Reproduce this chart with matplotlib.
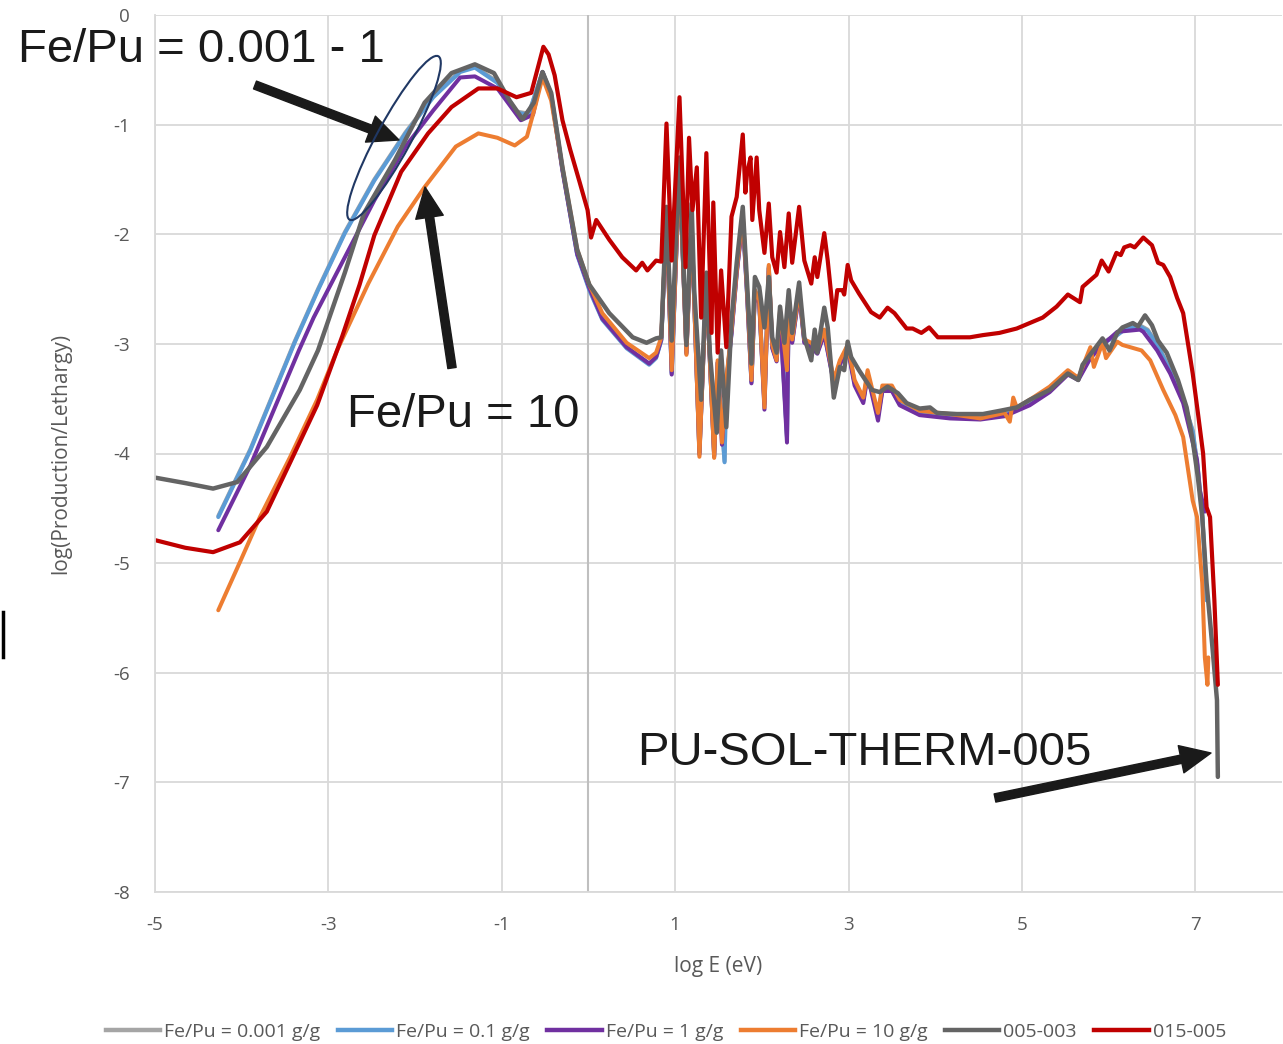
import matplotlib
matplotlib.use("Agg")
import matplotlib.pyplot as plt
from matplotlib.patches import Ellipse, FancyArrowPatch
from matplotlib.transforms import IdentityTransform
from matplotlib.lines import Line2D

# ---------------- data (log E, log(Production/Lethargy)) ----------------
red_x = [-5.00, -4.65, -4.33, -4.02, -3.71, -3.44, -3.13, -2.84, -2.64, -2.47, -2.16, -1.85, -1.58, -1.27,
         -1.05, -0.83, -0.66, -0.59, -0.52, -0.46, -0.39, -0.30, -0.21, -0.10, -0.01, 0.03, 0.09, 0.24,
         0.39, 0.55, 0.62, 0.68, 0.78, 0.84,
         0.90, 0.96, 1.05, 1.12, 1.16, 1.20, 1.25, 1.30, 1.36, 1.42, 1.44, 1.49, 1.53, 1.59, 1.65, 1.71,
         1.78, 1.81, 1.83, 1.87, 1.89, 1.94, 1.97, 2.03, 2.08, 2.12, 2.17, 2.21, 2.26, 2.31, 2.35, 2.43,
         2.49, 2.57, 2.61, 2.64, 2.72, 2.76, 2.83, 2.87, 2.93, 2.95, 2.99, 3.03, 3.12, 3.26, 3.36, 3.45,
         3.53, 3.67, 3.74, 3.84, 3.93, 4.03, 4.17, 4.40, 4.55, 4.74, 4.94, 5.09, 5.24, 5.40, 5.53, 5.67,
         5.70, 5.86, 5.92, 6.00, 6.09, 6.14, 6.18, 6.25, 6.30, 6.40, 6.50, 6.57, 6.63, 6.71, 6.79, 6.86,
         6.91, 6.97, 7.03, 7.09, 7.13, 7.17, 7.22, 7.26]
red_y = [-4.79, -4.86, -4.90, -4.81, -4.53, -4.08, -3.56, -2.93, -2.46, -2.01, -1.43, -1.08, -0.84, -0.67,
         -0.67, -0.75, -0.71, -0.50, -0.29, -0.36, -0.55, -0.96, -1.23, -1.53, -1.78, -2.03, -1.87, -2.05,
         -2.21, -2.33, -2.26, -2.33, -2.24, -2.25,
         -0.99, -2.24, -0.75, -2.30, -1.12, -1.78, -1.39, -2.76, -1.26, -2.90, -1.71, -3.08, -2.33, -3.03,
         -1.84, -1.66, -1.09, -1.62, -1.44, -1.30, -1.87, -1.30, -1.78, -2.17, -1.72, -2.21, -2.35, -1.98,
         -2.30, -1.81, -2.26, -1.75, -2.24, -2.45, -2.21, -2.39, -1.99, -2.24, -2.78, -2.51, -2.51, -2.55,
         -2.28, -2.42, -2.54, -2.71, -2.76, -2.67, -2.72, -2.86, -2.86, -2.90, -2.85, -2.94, -2.94, -2.94,
         -2.92, -2.90, -2.86, -2.81, -2.76, -2.66, -2.55, -2.62, -2.48, -2.37, -2.24, -2.34, -2.17, -2.19,
         -2.12, -2.10, -2.12, -2.03, -2.10, -2.26, -2.28, -2.39, -2.58, -2.72, -2.97, -3.27, -3.63, -4.00,
         -4.49, -4.58, -5.34, -6.11]

gray_x = [-5.00, -4.65, -4.33, -4.05, -3.71, -3.33, -3.12, -2.81, -2.59, -2.23, -1.89, -1.58, -1.31, -1.09,
          -0.91, -0.76, -0.63, -0.53, -0.43, -0.30, -0.13, 0.01, 0.24, 0.51, 0.67, 0.78, 0.84,
          0.90, 0.96, 1.05, 1.13, 1.19, 1.22, 1.30, 1.36, 1.40, 1.48, 1.53, 1.59, 1.65, 1.71, 1.78, 1.83,
          1.88, 1.92, 1.97, 2.03, 2.08, 2.12, 2.17, 2.21, 2.26, 2.31, 2.35, 2.43, 2.49, 2.57, 2.61, 2.64,
          2.72, 2.76, 2.83, 2.90, 2.95, 2.99, 3.03, 3.12, 3.27, 3.36, 3.45, 3.57, 3.67, 3.82, 3.94, 4.02,
          4.25, 4.55, 4.75, 4.94, 5.09, 5.32, 5.53, 5.65, 5.70, 5.93, 6.01, 6.10, 6.16, 6.28, 6.34, 6.42,
          6.50, 6.57, 6.67, 6.80, 6.90, 6.97, 7.03, 7.08, 7.13, 7.20, 7.25, 7.26]
gray_y = [-4.22, -4.27, -4.32, -4.26, -3.94, -3.42, -3.06, -2.35, -1.81, -1.32, -0.80, -0.53, -0.45, -0.53,
          -0.78, -0.95, -0.80, -0.52, -0.71, -1.39, -2.14, -2.46, -2.72, -2.94, -2.99, -2.95, -2.94,
          -1.75, -2.97, -1.30, -3.01, -1.72, -2.51, -3.51, -2.35, -3.08, -3.81, -3.06, -3.76, -2.78, -2.26,
          -1.75, -2.45, -3.18, -2.39, -2.48, -2.85, -2.39, -2.94, -3.08, -2.66, -2.99, -2.51, -2.90, -2.44,
          -2.94, -3.15, -2.87, -3.08, -2.67, -2.85, -3.49, -3.21, -3.24, -2.98, -3.12, -3.24, -3.42, -3.44,
          -3.39, -3.45, -3.54, -3.59, -3.58, -3.63, -3.64, -3.64, -3.61, -3.58, -3.51, -3.42, -3.27, -3.33,
          -3.19, -2.95, -3.06, -2.90, -2.85, -2.81, -2.84, -2.74, -2.83, -2.97, -3.08, -3.33, -3.58, -3.88,
          -4.22, -4.58, -5.18, -5.79, -6.25, -6.95]

orange_x = [-4.27, -4.02, -3.79, -3.44, -3.13, -2.90, -2.54, -2.20, -1.89, -1.53, -1.27, -1.05, -0.85,
            -0.71, -0.61, -0.53, -0.43, -0.30, -0.13, 0.01, 0.16, 0.44, 0.70, 0.78, 0.84,
            0.90, 0.96, 1.05, 1.13, 1.19, 1.22, 1.28, 1.36, 1.45, 1.49, 1.54, 1.59, 1.65, 1.71, 1.78, 1.83,
            1.88, 1.92, 1.97, 2.03, 2.08, 2.12, 2.17, 2.21, 2.29, 2.31, 2.35, 2.43, 2.49, 2.57, 2.64, 2.72,
            2.83, 2.90, 2.99, 3.07, 3.17, 3.22, 3.34, 3.39, 3.50, 3.59, 3.82, 4.17, 4.52, 4.80, 4.86, 4.90,
            4.94, 5.09, 5.32, 5.53, 5.65, 5.79, 5.83, 5.93, 5.97, 6.10, 6.16, 6.38, 6.48, 6.63, 6.77, 6.86,
            6.97, 7.02, 7.08, 7.11, 7.14, 7.15]
orange_y = [-5.43, -4.99, -4.58, -4.03, -3.51, -3.06, -2.45, -1.93, -1.57, -1.20, -1.08, -1.12, -1.19,
            -1.11, -0.82, -0.57, -0.78, -1.39, -2.14, -2.46, -2.72, -2.99, -3.13, -3.08, -2.94,
            -1.82, -3.24, -1.37, -3.10, -1.87, -2.60, -4.03, -2.42, -4.04, -3.15, -3.90, -3.33, -2.87, -2.33,
            -1.82, -2.51, -3.33, -2.51, -2.60, -3.58, -2.28, -3.01, -3.15, -2.69, -3.24, -2.60, -2.96, -2.51,
            -2.96, -2.99, -3.06, -2.87, -3.33, -3.15, -3.01, -3.33, -3.49, -3.24, -3.63, -3.38, -3.38, -3.51,
            -3.61, -3.64, -3.68, -3.63, -3.71, -3.49, -3.58, -3.51, -3.39, -3.24, -3.31, -3.03, -3.21, -2.99,
            -3.13, -2.98, -3.01, -3.06, -3.15, -3.42, -3.65, -3.85, -4.43, -4.58, -5.18, -5.86, -6.11, -5.86]

blue_x = [-4.27, -3.90, -3.39, -3.12, -2.81, -2.47, -2.11, -1.79, -1.48, -1.31, -1.05, -0.83, -0.69,
          -0.53, -0.43, -0.30, -0.13, 0.01, 0.16, 0.44, 0.70, 0.78, 0.84,
          0.90, 0.96, 1.05, 1.13, 1.19, 1.22, 1.28, 1.36, 1.45, 1.49, 1.57, 1.59, 1.65, 1.71, 1.78, 1.83,
          1.88, 1.92, 1.97, 2.03, 2.08, 2.12, 2.17, 2.21, 2.29, 2.31, 2.35, 2.43, 2.49, 2.57, 2.64, 2.72,
          2.83, 2.90, 2.99, 3.07, 3.17, 3.22, 3.34, 3.39, 3.50, 3.59, 3.82, 4.17, 4.52, 4.80, 5.09, 5.32,
          5.53, 5.65, 5.79, 5.93, 6.10, 6.20, 6.36, 6.45, 6.57, 6.71, 6.86, 6.97, 7.03, 7.08, 7.11, 7.13]
blue_y = [-4.58, -3.97, -2.99, -2.51, -1.99, -1.51, -1.08, -0.75, -0.52, -0.48, -0.62, -0.89, -0.91,
          -0.52, -0.73, -1.41, -2.19, -2.51, -2.78, -3.04, -3.19, -3.13, -2.97,
          -1.85, -3.27, -1.40, -3.08, -1.90, -2.62, -4.00, -2.45, -4.02, -3.18, -4.08, -3.35, -2.90, -2.35,
          -1.85, -2.55, -3.35, -2.52, -2.62, -3.55, -2.30, -3.03, -3.15, -2.72, -3.85, -2.62, -2.98, -2.53,
          -2.98, -3.02, -3.08, -2.90, -3.35, -3.18, -3.03, -3.36, -3.52, -3.28, -3.66, -3.42, -3.42, -3.55,
          -3.64, -3.67, -3.68, -3.65, -3.55, -3.43, -3.27, -3.32, -3.12, -3.00, -2.92, -2.86, -2.84, -2.88,
          -3.02, -3.25, -3.52, -3.80, -4.15, -4.55, -5.00, -5.34]

purple_x = [-4.27, -3.90, -3.34, -3.17, -2.81, -2.47, -2.11, -1.79, -1.48, -1.31, -1.05, -0.78, -0.64,
            -0.53, -0.43, -0.30, -0.13, 0.01, 0.16, 0.44, 0.70, 0.78, 0.84,
            0.90, 0.96, 1.05, 1.13, 1.19, 1.22, 1.28, 1.36, 1.45, 1.49, 1.54, 1.59, 1.65, 1.71, 1.78, 1.83,
            1.88, 1.92, 1.97, 2.03, 2.08, 2.12, 2.17, 2.21, 2.29, 2.31, 2.35, 2.43, 2.49, 2.57, 2.64, 2.72,
            2.83, 2.90, 2.99, 3.07, 3.17, 3.22, 3.34, 3.39, 3.50, 3.59, 3.82, 4.17, 4.52, 4.80, 5.09, 5.32,
            5.53, 5.65, 5.79, 5.93, 6.10, 6.36, 6.40, 6.56, 6.71, 6.86, 7.02, 7.05, 7.11]
purple_y = [-4.70, -4.11, -3.06, -2.76, -2.21, -1.69, -1.20, -0.87, -0.57, -0.56, -0.67, -0.96, -0.91,
            -0.52, -0.74, -1.42, -2.18, -2.49, -2.77, -3.03, -3.18, -3.12, -2.96,
            -1.86, -3.28, -1.41, -3.09, -1.91, -2.61, -4.01, -2.44, -4.03, -3.17, -3.92, -3.36, -2.91, -2.36,
            -1.86, -2.56, -3.36, -2.53, -2.63, -3.60, -2.31, -3.04, -3.16, -2.73, -3.90, -2.63, -2.99, -2.54,
            -2.99, -3.03, -3.09, -2.91, -3.36, -3.19, -3.04, -3.38, -3.54, -3.29, -3.70, -3.43, -3.43, -3.56,
            -3.65, -3.68, -3.69, -3.66, -3.56, -3.44, -3.28, -3.33, -3.13, -3.01, -2.89, -2.87, -2.89, -3.06,
            -3.27, -3.54, -4.06, -4.33, -4.53]

lgray_x = [-4.27, -3.90, -3.39, -3.12, -2.81, -2.47, -2.11, -1.79, -1.48, -1.31, -1.05, -0.83, -0.69,
           -0.53, -0.43, -0.30, -0.13, 0.01, 0.16, 0.44, 0.70, 0.78, 0.84,
           0.90, 0.96, 1.05, 1.13, 1.19, 1.22, 1.28, 1.36, 1.45, 1.49, 1.57, 1.59, 1.65, 1.71, 1.78, 1.83,
           1.88, 1.92, 1.97, 2.03, 2.08, 2.12, 2.17, 2.21, 2.29, 2.31, 2.35, 2.43, 2.49, 2.57, 2.64, 2.72,
           2.83, 2.90, 2.99, 3.07, 3.17, 3.22, 3.34, 3.39, 3.50, 3.59, 3.82, 4.17, 4.52, 4.80, 5.09, 5.32,
           5.53, 5.65, 5.79, 5.93, 6.10, 6.20, 6.36, 6.45, 6.57, 6.71, 6.86, 6.97, 7.03, 7.08, 7.11, 7.13]
lgray_y = [-4.57, -3.96, -2.98, -2.50, -1.98, -1.50, -1.07, -0.74, -0.51, -0.47, -0.61, -0.88, -0.90,
           -0.52, -0.72, -1.40, -2.18, -2.50, -2.77, -3.03, -3.18, -3.12, -2.96,
           -1.84, -3.26, -1.39, -3.07, -1.89, -2.61, -3.99, -2.44, -4.01, -3.17, -4.07, -3.34, -2.89, -2.34,
           -1.84, -2.54, -3.34, -2.51, -2.61, -3.54, -2.29, -3.02, -3.14, -2.71, -3.84, -2.61, -2.97, -2.52,
           -2.97, -3.01, -3.07, -2.89, -3.34, -3.17, -3.02, -3.35, -3.51, -3.27, -3.65, -3.41, -3.41, -3.54,
           -3.63, -3.66, -3.67, -3.64, -3.54, -3.42, -3.26, -3.31, -3.11, -2.99, -2.91, -2.85, -2.83, -2.87,
           -3.01, -3.24, -3.51, -3.79, -4.14, -4.54, -4.99, -5.33]

series_labels = ["Fe/Pu = 0.001 g/g", "Fe/Pu = 0.1 g/g", "Fe/Pu = 1 g/g", "Fe/Pu = 10 g/g",
                 "005-003", "015-005"]
series_colors = ["#A5A5A5", "#5B9BD5", "#7030A0", "#ED7D31", "#646464", "#C00000"]

x_ticks = [-5, -3, -1, 1, 3, 5, 7]
y_ticks = [0, -1, -2, -3, -4, -5, -6, -7, -8]

# ---------------- style ----------------
plt.rcParams["font.family"] = ["Open Sans", "DejaVu Sans"]
plt.rcParams["axes.unicode_minus"] = False

W, H = 1283, 1044
fig = plt.figure(figsize=(W / 100, H / 100), dpi=100)
ax = fig.add_axes([155 / W, (H - 892) / H, (1282 - 155) / W, (892 - 15) / H])

ax.set_xlim(-5, 8)
ax.set_ylim(-8, 0)
ax.set_xticks(x_ticks)
ax.set_yticks(y_ticks)
ax.grid(True, color="#D9D9D9", lw=1.3)
ax.set_axisbelow(True)
for s in ["top", "right"]:
    ax.spines[s].set_visible(False)
for s in ["left", "bottom"]:
    ax.spines[s].set_color("#D9D9D9")
    ax.spines[s].set_linewidth(1.3)
ax.axvline(0, color="#BFBFBF", lw=1.5, zorder=1)
ax.tick_params(length=0, labelsize=13.5, labelcolor="#595959", pad=18)
ax.tick_params(axis="x", pad=17)

ax.set_xlabel("log E (eV)", fontsize=15, color="#595959", labelpad=16)
ax.set_ylabel("log(Production/Lethargy)", fontsize=15, color="#595959", labelpad=30)

data = [(lgray_x, lgray_y), (blue_x, blue_y), (purple_x, purple_y), (orange_x, orange_y),
        (gray_x, gray_y), (red_x, red_y)]
widths = [2.9, 2.9, 2.9, 2.9, 3.2, 3.0]
for (xs, ys), c, lab, lw in zip(data, series_colors, series_labels, widths):
    ax.plot(xs, ys, color=c, lw=lw, label=lab, solid_joinstyle="round", solid_capstyle="round")

# legend
handles = [Line2D([0], [0], color=c, lw=3.2) for c in series_colors]
fig.legend(handles, series_labels, loc="center", bbox_to_anchor=(666 / W, 12 / H), ncol=6,
           frameon=False, fontsize=14, handlelength=2.8, handletextpad=0.2, columnspacing=0.9,
           labelcolor="#595959")

# annotations
tf = ["Liberation Sans", "DejaVu Sans"]
fig.text(18 / W, (H - 62) / H, "Fe/Pu = 0.001 - 1", fontsize=34, family=tf,
         color="#1A1A1A", va="baseline", ha="left")
fig.text(347 / W, (H - 427) / H, "Fe/Pu = 10", fontsize=34, family=tf,
         color="#1A1A1A", va="baseline", ha="left")
fig.text(637 / W, (H - 765) / H, "PU-SOL-THERM-005", fontsize=34, family=tf,
         color="#1A1A1A", va="baseline", ha="left")

ell = Ellipse((394, H - 138), 186, 34, angle=61.5, transform=IdentityTransform(),
              fill=False, edgecolor="#203864", lw=1.5, zorder=10)
fig.patches.append(ell)

arrow_kw = dict(arrowstyle="simple,head_length=1.1,head_width=1.0,tail_width=0.3",
                color="#1A1A1A", mutation_scale=20, shrinkA=0, shrinkB=0)
for (tx, ty), (hx, hy) in [((255, 85), (399, 140)), ((452, 368), (425, 187)),
                           ((995, 798), (1211, 753))]:
    fig.add_artist(FancyArrowPatch((tx, H - ty), (hx, H - hy),
                                   transform=IdentityTransform(), **arrow_kw))

fig.add_artist(Line2D([3, 3], [H - 612, H - 657], transform=IdentityTransform(), color="black",
                      lw=2.5))

fig.savefig("out.png", dpi=100)
